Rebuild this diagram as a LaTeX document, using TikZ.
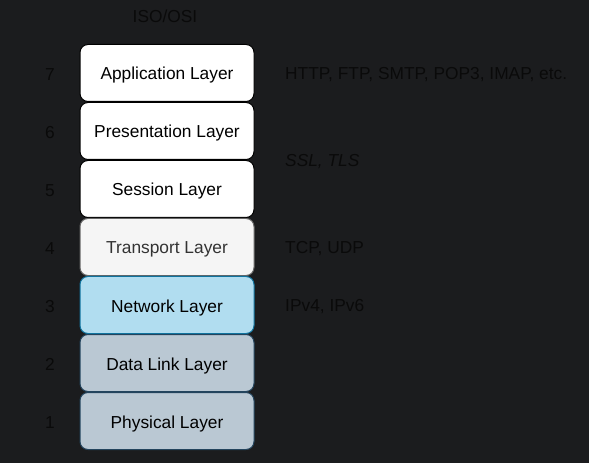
\documentclass[tikz,border=0pt]{standalone}
\usepackage{fontspec}
\setmainfont{Liberation Sans}
\definecolor{bgdark}{HTML}{1B1C1E}
\definecolor{txtdark}{HTML}{0A0A0A}
\definecolor{whitefill}{HTML}{FFFFFF}
\definecolor{whiteline}{HTML}{000000}
\definecolor{whitetext}{HTML}{000000}
\definecolor{grayfill}{HTML}{F5F5F5}
\definecolor{grayline}{HTML}{666666}
\definecolor{graytext}{HTML}{333333}
\definecolor{bluefill}{HTML}{B1DDF0}
\definecolor{blueline}{HTML}{10739E}
\definecolor{steelfill}{HTML}{BAC8D3}
\definecolor{steelline}{HTML}{23445D}
\tikzset{
  layerbox/.style={draw, rounded corners=8bp, minimum width=174bp, minimum height=57bp,
    line width=1bp, font=\fontsize{17.4}{20}\selectfont},
  plaintxt/.style={text=txtdark, font=\fontsize{17.4}{20}\selectfont, inner sep=0pt}
}
\begin{document}
\begin{tikzpicture}[x=1bp,y=-1bp]
\fill[bgdark] (0,0) rectangle (589,463);
\useasboundingbox (0,0) rectangle (589,463);
\node[plaintxt] (title) at (165,16) {ISO/OSI};
\foreach \n/\lname/\fc/\lc/\tc in {7/Application/whitefill/whiteline/whitetext,
  6/Presentation/whitefill/whiteline/whitetext, 5/Session/whitefill/whiteline/whitetext,
  4/Transport/grayfill/grayline/graytext, 3/Network/bluefill/blueline/whitetext,
  2/Data Link/steelfill/steelline/whitetext, 1/Physical/steelfill/steelline/whitetext} {
  \node[layerbox, fill=\fc, draw=\lc, text=\tc] (l\n) at (167,{73+(7-\n)*58}) {\raisebox{-7bp}[0pt][0pt]{\lname\ Layer}};
  \node[plaintxt] (n\n) at (50,{74.5+(7-\n)*58}) {\n};
}
\node[plaintxt, anchor=west] (proto7) at (285,74.5) {HTTP, FTP, SMTP, POP3, IMAP, etc.};
\node[plaintxt, anchor=west, font=\fontsize{17.4}{20}\selectfont\itshape] (proto56) at (285,161.5) {SSL, TLS};
\node[plaintxt, anchor=west] (proto4) at (285,248.5) {TCP, UDP};
\node[plaintxt, anchor=west] (proto3) at (285,306.5) {IPv4, IPv6};
\end{tikzpicture}
\end{document}
